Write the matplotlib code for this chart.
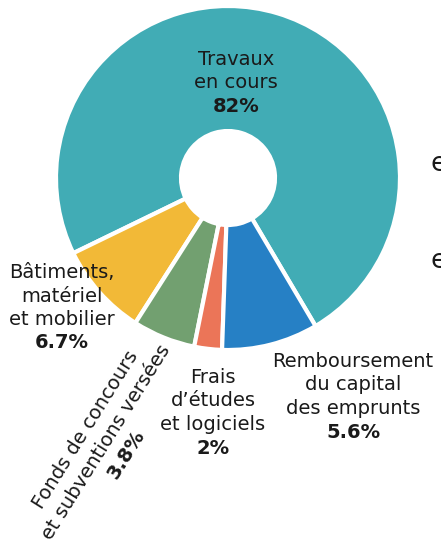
import numpy as np
import matplotlib
matplotlib.use('Agg')
import matplotlib.pyplot as plt

W, H = 441, 539

# slices, counter-clockwise from the lower right edge of "Travaux en cours"
names = ['Travaux\nen cours', 'Bâtiments,\nmatériel\net mobilier',
         'Fonds de concours\net subventions versées', 'Frais\nd’études\net logiciels',
         'Remboursement\ndu capital\ndes emprunts']
printed_pct = ['82%', '6.7%', '3.8%', '2%', '5.6%']
# slice sizes as drawn in the picture (share of the circle, %)
shares = [73.7, 8.75, 5.9, 2.6, 9.05]
colors = ['#41acb5', '#f2b937', '#72a070', '#eb7558', '#2680c5']

# label anchors in picture pixels: centre x, first baseline y, rotation
label_pos = [(236, 65, 0), (62, 278, 0), (106, 442, 58), (213, 383, 0), (353, 367, 0)]

plt.rcParams['font.family'] = ['DejaVu Sans']
fig = plt.figure(figsize=(W / 100, H / 100), dpi=100)
ax = fig.add_axes([0, 0, 1, 1])

cx, cy, r_out, r_in = 228, H - 178, 172, 47
ax.pie(shares, colors=colors, startangle=-59.4, counterclock=True,
       radius=r_out, center=(cx, cy),
       wedgeprops=dict(width=r_out - r_in, edgecolor='white', linewidth=3))
ax.set_xlim(0, W)
ax.set_ylim(0, H)
ax.set_aspect('equal')
ax.axis('off')

step = 23.5
txt = '#1a1a1a'
for name, pct, (x, y, rot) in zip(names, printed_pct, label_pos):
    lines = name.split('\n')
    if rot == 0:
        for i, line in enumerate(lines):
            ax.text(x, H - (y + i * step), line, ha='center', va='baseline',
                    fontsize=14, color=txt)
        ax.text(x, H - (y + len(lines) * step), pct, ha='center', va='baseline',
                fontsize=14, fontweight='bold', color=txt)
    else:
        # rotated block, (x, y) is the centre of the middle line
        a = np.deg2rad(rot)
        dx, dy = np.sin(a) * step, np.cos(a) * step
        items = [(l, 'normal') for l in lines] + [(pct, 'bold')]
        for i, (s, w) in enumerate(items):
            k = i - 1
            ax.text(x + k * dx, H - (y + k * dy), s, ha='center', va='center',
                    rotation=rot, rotation_mode='anchor', fontsize=14,
                    fontweight=w, color=txt)

# pieces of neighbouring text cut by the right edge
for y in [171, 268]:
    ax.text(431, H - y, 'e', ha='left', va='baseline', fontsize=19, color=txt)

fig.savefig('out.png', dpi=100)
